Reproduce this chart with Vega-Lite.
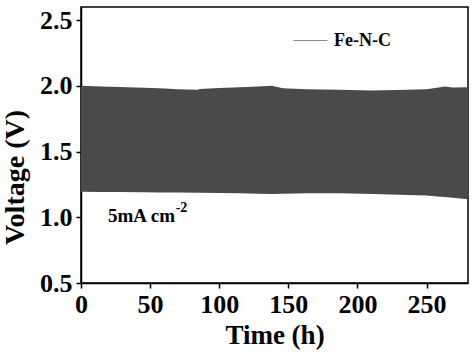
{
  "$schema": "https://vega.github.io/schema/vega-lite/v6.json",
  "width": 387,
  "height": 276,
  "autosize": {"type": "none"},
  "padding": {"left": 81, "top": 7, "right": 6, "bottom": 72},
  "background": "white",
  "config": {
    "view": {"stroke": "black", "strokeWidth": 1.5},
    "font": "Liberation Serif",
    "axis": {
      "domainColor": "black", "domainWidth": 1.5, "tickColor": "black", "tickWidth": 1.5, "tickSize": 5,
      "grid": false, "labelFont": "Liberation Serif", "labelFontWeight": "bold", "labelFontSize": 26,
      "labelColor": "black", "titleFont": "Liberation Serif", "titleFontWeight": "bold", "titleColor": "black"
    }
  },
  "layer": [
    {
      "data": {"values": [
        {"t": 0, "upper": 2.0, "lower": 1.195},
        {"t": 15, "upper": 1.996, "lower": 1.193},
        {"t": 28, "upper": 1.992, "lower": 1.192},
        {"t": 45, "upper": 1.985, "lower": 1.190},
        {"t": 57, "upper": 1.981, "lower": 1.189},
        {"t": 70, "upper": 1.975, "lower": 1.188},
        {"t": 84, "upper": 1.970, "lower": 1.186},
        {"t": 86, "upper": 1.977, "lower": 1.186},
        {"t": 100, "upper": 1.984, "lower": 1.185},
        {"t": 115, "upper": 1.990, "lower": 1.183},
        {"t": 128, "upper": 1.996, "lower": 1.180},
        {"t": 138, "upper": 2.0, "lower": 1.177},
        {"t": 146, "upper": 1.982, "lower": 1.179},
        {"t": 163, "upper": 1.975, "lower": 1.182},
        {"t": 187, "upper": 1.970, "lower": 1.183},
        {"t": 211, "upper": 1.964, "lower": 1.177},
        {"t": 236, "upper": 1.970, "lower": 1.170},
        {"t": 250, "upper": 1.975, "lower": 1.165},
        {"t": 260, "upper": 1.990, "lower": 1.157},
        {"t": 263, "upper": 1.995, "lower": 1.155},
        {"t": 269, "upper": 1.987, "lower": 1.148},
        {"t": 280, "upper": 1.990, "lower": 1.137}
      ]},
      "mark": {"type": "area", "opacity": 1, "color": "#4a4a4a"},
      "encoding": {
        "x": {"field": "t", "type": "quantitative",
          "scale": {"domain": [0, 280], "nice": false},
          "axis": {"title": "Time (h)", "titleFontSize": 27, "titlePadding": 5, "labelPadding": 3,
            "values": [0, 25, 50, 75, 100, 125, 150, 175, 200, 225, 250, 275],
            "labelExpr": "datum.value % 50 == 0 ? datum.label : ''", "labelFlush": false, "labelOverlap": false}},
        "y": {"field": "upper", "type": "quantitative",
          "scale": {"domain": [0.5, 2.6], "nice": false, "zero": false},
          "axis": {"title": "Voltage (V)", "titleFontSize": 28, "titlePadding": 10, "labelPadding": 4, "titleY": 170,
            "values": [0.5, 0.75, 1.0, 1.25, 1.5, 1.75, 2.0, 2.25, 2.5],
            "format": ".1f",
            "labelExpr": "(datum.value * 2) % 1 == 0 ? datum.label : ''", "labelOverlap": false, "labelFlush": false}},
        "y2": {"field": "lower"}
      }
    },
    {
      "data": {"values": [
        {"t": 0, "v": 2.0, "series": "Fe-N-C"}
      ]},
      "mark": {"type": "line", "strokeWidth": 1},
      "encoding": {
        "x": {"field": "t", "type": "quantitative"},
        "y": {"field": "v", "type": "quantitative"},
        "color": {"field": "series", "type": "nominal",
          "scale": {"range": ["#888888"]},
          "legend": {"title": null, "orient": "none", "legendX": 212, "legendY": 16, "padding": 0,
            "symbolType": "stroke", "symbolSize": 1156, "labelOffset": 6, "symbolStrokeWidth": 1,
            "labelFont": "Liberation Serif", "labelFontWeight": "bold", "labelFontSize": 18, "labelColor": "black"}}
      }
    },
    {
      "data": {"values": [
        {"t": 19.5, "v": 0.964, "label": "5mA cm", "size": "main"},
        {"t": 68.5, "v": 1.04, "label": "-2", "size": "sup"}
      ]},
      "mark": {"type": "text", "align": "left", "baseline": "alphabetic", "font": "Liberation Serif", "fontWeight": "bold", "color": "black"},
      "encoding": {
        "x": {"field": "t", "type": "quantitative"},
        "y": {"field": "v", "type": "quantitative"},
        "text": {"field": "label"},
        "size": {"field": "size", "type": "nominal", "scale": {"domain": ["main", "sup"], "range": [19, 14]}, "legend": null}
      }
    }
  ]
}
